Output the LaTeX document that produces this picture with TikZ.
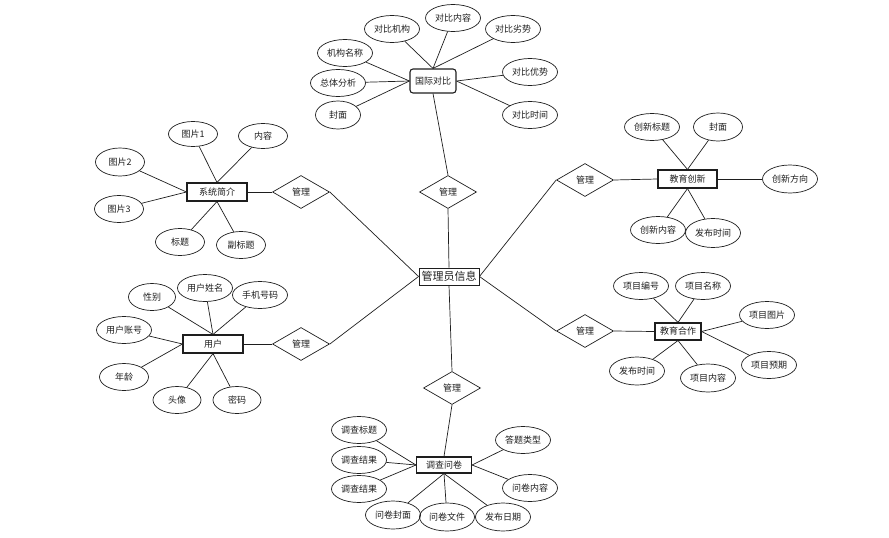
\documentclass[tikz,border=0pt]{standalone}
\usepackage{fontspec}
\newfontfamily\cjk{Noto Sans CJK SC}
\usetikzlibrary{shapes.geometric}
\definecolor{ink}{RGB}{30,30,30}

\begin{document}
\begin{tikzpicture}[x=1pt,y=-1pt,
  every node/.style={font=\cjk\fontsize{9}{10}\selectfont,text=ink},
  attr/.style={draw=ink,ellipse,line width=0.7pt,minimum width=55pt,
               minimum height=27pt,inner sep=0pt},
  attrs/.style={attr,minimum width=49pt},
  ent/.style={draw=ink,line width=1.1pt,minimum width=60pt,minimum height=18pt,
              inner sep=1pt},
  rel/.style={draw=ink,diamond,line width=0.7pt,minimum width=57pt,
              minimum height=33pt,inner sep=0pt},
  hub/.style={draw=ink,line width=0.9pt,minimum width=60pt,minimum height=17pt,
              inner sep=1pt,font=\cjk\fontsize{11}{12}\selectfont},
  ln/.style={draw=ink,line width=0.7pt}]
  \useasboundingbox (0,0) rectangle (889,538);
  % centre and relations
  \node[hub] (admin) at (449,276.5) {管理员信息};
  \node[rel] (r1) at (448,192) {管理};
  \node[rel] (r2) at (585,180) {管理};
  \node[rel] (r3) at (301,192) {管理};
  \node[rel] (r4) at (301,344) {管理};
  \node[rel] (r5) at (585,331) {管理};
  \node[rel] (r6) at (452,388) {管理};
  % entities
  \node[ent,rounded corners=3pt,minimum width=46pt,minimum height=24pt] (gjdb) at (433,81) {国际对比};
  \node[ent,minimum width=59pt] (jycx) at (687.5,179) {教育创新};
  \node[ent] (xtjj) at (217,192) {系统简介};
  \node[ent] (yh)   at (213,344) {用户};
  \node[ent,minimum width=46pt,minimum height=17pt] (jyhz) at (678,331.5) {教育合作};
  \node[ent,minimum width=55pt,minimum height=16pt] (dcwj) at (444,465) {调查问卷};
  % attributes : 国际对比
  \node[attr] (g1) at (392,29)  {对比机构};
  \node[attr] (g2) at (453,18)  {对比内容};
  \node[attr] (g3) at (513,29)  {对比劣势};
  \node[attr] (g4) at (345,53)  {机构名称};
  \node[attr] (g5) at (338,83)  {总体分析};
  \node[attr,minimum width=45pt,minimum height=28pt] (g6) at (338,115) {封面};
  \node[attr] (g7) at (530,72)  {对比优势};
  \node[attr] (g8) at (530,115) {对比时间};
  % attributes : 教育创新
  \node[attr] (c1) at (652,127) {创新标题};
  \node[attrs,minimum height=28pt] (c2) at (718,127) {封面};
  \node[attr,minimum height=28pt] (c3) at (790,179) {创新方向};
  \node[attr] (c4) at (658,230) {创新内容};
  \node[attr,minimum height=29pt] (c5) at (713,233) {发布时间};
  % attributes : 系统简介
  \node[attrs,minimum height=25pt] (x1) at (193,134) {图片1};
  \node[attrs,minimum height=25pt] (x2) at (263,136) {内容};
  \node[attrs,minimum height=28pt] (x3) at (120,162) {图片2};
  \node[attrs] (x4) at (119,209) {图片3};
  \node[attrs] (x5) at (180,242) {标题};
  \node[attrs] (x6) at (241,245) {副标题};
  % attributes : 用户
  \node[attrs,minimum width=47pt] (u1) at (152,297) {性别};
  \node[attr] (u2) at (205,288) {用户姓名};
  \node[attr] (u3) at (260,295) {手机号码};
  \node[attr] (u4) at (124,330) {用户账号};
  \node[attrs] (u5) at (124,377) {年龄};
  \node[attrs,minimum width=48pt] (u6) at (177,400) {头像};
  \node[attrs,minimum width=48pt] (u7) at (237,400) {密码};
  % attributes : 教育合作
  \node[attr] (h1) at (641,286) {项目编号};
  \node[attr] (h2) at (703,286) {项目名称};
  \node[attr] (h3) at (767,315) {项目图片};
  \node[attr] (h4) at (769,365) {项目预期};
  \node[attr,minimum height=28pt] (h5) at (637,371) {发布时间};
  \node[attr,minimum height=28pt] (h6) at (708,378) {项目内容};
  % attributes : 调查问卷
  \node[attr] (d1) at (359,430) {调查标题};
  \node[attr] (d2) at (359,460) {调查结果};
  \node[attr] (d3) at (359,489) {调查结果};
  \node[attr] (d4) at (523,440) {答题类型};
  \node[attr] (d5) at (530,488) {问卷内容};
  \node[attr,minimum height=28pt] (d6) at (393,515) {问卷封面};
  \node[attr,minimum height=28pt] (d7) at (447,517) {问卷文件};
  \node[attr,minimum height=28pt] (d8) at (503,517) {发布日期};
  % relation edges
  \draw[ln] (admin.north) -- (r1.south);
  \draw[ln] (r1.north) -- (gjdb.south);
  \draw[ln] (admin.east) -- (r2.west);
  \draw[ln] (r2.east) -- (jycx.west);
  \draw[ln] (admin.west) -- (r3.east);
  \draw[ln] (r3.west) -- (xtjj.east);
  \draw[ln] (admin.west) -- (r4.east);
  \draw[ln] (r4.west) -- (yh.east);
  \draw[ln] (admin.east) -- (r5.west);
  \draw[ln] (r5.east) -- (jyhz.west);
  \draw[ln] (admin.south) -- (r6.north);
  \draw[ln] (r6.south) -- (dcwj.north);
  % attribute edges
  \draw[ln] (g1) -- (gjdb.north);
  \draw[ln] (g2) -- (gjdb.north);
  \draw[ln] (g3) -- (gjdb.north);
  \draw[ln] (g4) -- (gjdb.west);
  \draw[ln] (g5) -- (gjdb.west);
  \draw[ln] (g6) -- (gjdb.west);
  \draw[ln] (g7) -- (gjdb.east);
  \draw[ln] (g8) -- (gjdb.east);
  \draw[ln] (c1) -- (jycx.north);
  \draw[ln] (c2) -- (jycx.north);
  \draw[ln] (c3) -- (jycx.east);
  \draw[ln] (c4) -- (jycx.south);
  \draw[ln] (c5) -- (jycx.south);
  \draw[ln] (x1) -- (xtjj.north);
  \draw[ln] (x2) -- (xtjj.north);
  \draw[ln] (x3) -- (xtjj.west);
  \draw[ln] (x4) -- (xtjj.west);
  \draw[ln] (x5) -- (xtjj.south);
  \draw[ln] (x6) -- (xtjj.south);
  \draw[ln] (u1) -- (yh.north);
  \draw[ln] (u2) -- (yh.north);
  \draw[ln] (u3) -- (yh.north);
  \draw[ln] (u4) -- (yh.west);
  \draw[ln] (u5) -- (yh.west);
  \draw[ln] (u6) -- (yh.south);
  \draw[ln] (u7) -- (yh.south);
  \draw[ln] (h1) -- (jyhz.north);
  \draw[ln] (h2) -- (jyhz.north);
  \draw[ln] (h3) -- (jyhz.east);
  \draw[ln] (h4) -- (jyhz.east);
  \draw[ln] (h5) -- (jyhz.south);
  \draw[ln] (h6) -- (jyhz.south);
  \draw[ln] (d1) -- (dcwj.west);
  \draw[ln] (d2) -- (dcwj.west);
  \draw[ln] (d3) -- (dcwj.west);
  \draw[ln] (d4) -- (dcwj.east);
  \draw[ln] (d5) -- (dcwj.east);
  \draw[ln] (d6) -- (dcwj.south);
  \draw[ln] (d7) -- (dcwj.south);
  \draw[ln] (d8) -- (dcwj.south);
\end{tikzpicture}
\end{document}
